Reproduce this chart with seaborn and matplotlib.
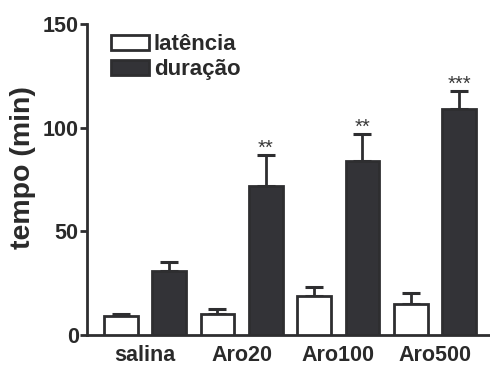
import matplotlib
matplotlib.use("Agg")
import matplotlib.pyplot as plt
import seaborn as sns
import pandas as pd
import numpy as np
from matplotlib.patches import Patch

groups = ["salina", "Aro20", "Aro100", "Aro500"]
series = ["latência", "duração"]
latencia = [9.0, 10.2, 19.0, 15.0]
latencia_err = [1.3, 2.5, 4.2, 5.3]
duracao = [30.7, 72.0, 83.8, 109.0]
duracao_err = [4.3, 14.6, 13.2, 8.5]
stars = ["", "**", "**", "***"]
yticks = [0, 50, 100, 150]

sns.set_style("white")
plt.rcParams["font.family"] = ["Liberation Sans", "DejaVu Sans"]
plt.rcParams["font.weight"] = "bold"

dark = "#333337"
edge = "#2e2e30"
textc = "#2a2a2a"

df = pd.DataFrame({
    "grupo": groups * 2,
    "serie": [series[0]] * 4 + [series[1]] * 4,
    "valor": latencia + duracao,
})

fig = plt.figure(figsize=(4.9, 3.71), dpi=100)
ax = fig.add_axes([87 / 490, (371 - 335) / 371, 1 - 87 / 490, (335 - 24) / 371])

sns.barplot(data=df, x="grupo", y="valor", hue="serie", order=groups,
            hue_order=series, palette={series[0]: "white", series[1]: dark},
            width=1.0, gap=0.3, edgecolor=edge, linewidth=2, errorbar=None,
            legend=False, ax=ax, zorder=3)

errs = [latencia_err, duracao_err]
vals = [latencia, duracao]
for cont, v, e in zip(ax.containers, vals, errs):
    xs = [b.get_x() + b.get_width() / 2 for b in cont]
    ax.errorbar(xs, v, yerr=[np.zeros(len(e)), e], fmt="none", ecolor=edge,
                elinewidth=2, capsize=6.5, capthick=2.2, zorder=2)

dcont = ax.containers[1]
for b, v, e, s in zip(dcont, duracao, duracao_err, stars):
    if s:
        ax.text(b.get_x() + b.get_width() / 2, v + e + 0.6, s, ha="center",
                va="baseline", fontsize=14.5, fontweight="normal", color="#3a3a3a")

ax.set_xlim(-0.6, 3.57)
ax.set_ylim(0, 150)
ax.set_yticks(yticks)
ax.set_yticklabels([str(t) for t in yticks])
ax.set_xlabel("")
ax.set_ylabel("tempo (min)", fontsize=20.5, fontweight="bold", color=textc)
ax.yaxis.set_label_coords(-0.127, 0.539)

for sp in ["top", "right"]:
    ax.spines[sp].set_visible(False)
for sp in ["left", "bottom"]:
    ax.spines[sp].set_linewidth(2)
    ax.spines[sp].set_color(edge)
ax.tick_params(axis="y", which="both", left=True, length=5, width=2, color=edge,
               labelsize=15.5, pad=1, labelcolor=textc)
ax.tick_params(axis="x", bottom=False, labelsize=15.5, pad=4, labelcolor=textc)
for lab in ax.get_xticklabels() + ax.get_yticklabels():
    lab.set_fontweight("bold")

handles = [Patch(facecolor="white", edgecolor=edge, linewidth=2),
           Patch(facecolor=dark, edgecolor=edge, linewidth=2)]
leg = ax.legend(handles, series, loc="upper left", bbox_to_anchor=(0.0596, 0.968),
                frameon=False, fontsize=16, handlelength=1.71, handleheight=0.68,
                handletextpad=0.22, labelspacing=0.18, borderaxespad=0, borderpad=0)
for t in leg.get_texts():
    t.set_fontweight("bold")
    t.set_color(textc)

fig.savefig("out.png", dpi=100)
